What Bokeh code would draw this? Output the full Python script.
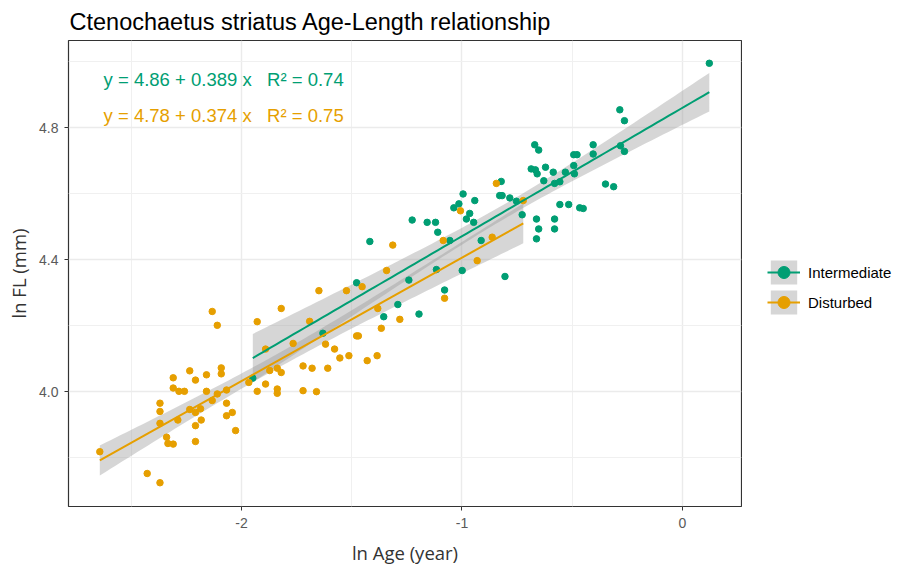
import numpy as np
from bokeh.plotting import figure
from bokeh.layouts import row
from bokeh.models import Range1d, FixedTicker, Legend, LegendItem, Label
from bokeh.embed import file_html
from bokeh.resources import INLINE

# ---------------- data ----------------
dist_x = [-2.643, -2.133, -2.110, -1.929, -2.310, -2.235, -2.209, -2.159, -2.092, -2.092,
          -2.310, -2.284, -2.259, -2.159, -2.068, -2.110, -2.370, -2.370, -2.370, -2.289,
          -2.235, -2.209, -2.186, -2.133, -2.068, -2.068, -2.042, -2.183, -2.209, -2.027,
          -2.340, -2.334, -2.310, -2.209, -2.428, -2.370, -1.967, -1.929, -1.314, -1.342,
          -1.649, -1.524, -1.453, -1.820, -1.691, -1.382, -1.282, -1.366, -1.478, -1.470,
          -1.766, -1.891, -1.619, -1.578, -1.554, -1.513, -1.430, -1.385, -1.721, -1.680,
          -1.609, -1.872, -1.838, -1.820, -1.891, -1.838, -1.838, -1.721, -1.660, -0.844,
          -1.007, -0.722, -1.085, -0.863, -0.931, -1.079]
dist_y = [3.818, 4.243, 4.201, 4.212, 4.042, 4.063, 4.035, 4.051, 4.072, 4.054,
          4.011, 4.001, 4.001, 4.001, 4.005, 3.993, 3.965, 3.940, 3.904, 3.914,
          3.946, 3.937, 3.948, 3.973, 3.965, 3.927, 3.937, 3.914, 3.897, 3.882,
          3.862, 3.843, 3.841, 3.849, 3.752, 3.724, 4.028, 4.001, 4.444, 4.367,
          4.306, 4.306, 4.318, 4.252, 4.213, 4.252, 4.219, 4.192, 4.169, 4.169,
          4.146, 4.129, 4.144, 4.129, 4.102, 4.109, 4.094, 4.109, 4.078, 4.071,
          4.071, 4.064, 4.071, 4.058, 4.023, 4.008, 3.995, 4.003, 4.000, 4.631,
          4.548, 4.579, 4.458, 4.468, 4.397, 4.283]

inter_x = [-1.949, -1.418, -1.478, -1.241, -1.116, -1.291, -1.355, -1.195, -1.631, -1.226,
           -0.670, -0.652, -0.686, -0.667, -0.659, -0.621, -0.586, -0.629, -0.580, -0.556,
           -0.531, -0.490, -0.822, -0.829, -0.818, -0.783, -0.753, -0.995, -1.037, -1.014,
           -0.942, -0.965, -0.980, -0.947, -1.158, -1.120, -1.110, -0.727, -0.662, -0.580,
           -0.556, -0.516, -0.466, -0.652, -0.580, -0.662, -0.913, -1.055, -0.999, -0.805,
           -1.079, 0.122, -0.284, -0.263, -0.405, -0.493, -0.478, -0.405, -0.281, -0.263,
           -0.493, -0.349, -0.312, -0.450]
inter_y = [4.041, 4.455, 4.330, 4.338, 4.370, 4.264, 4.227, 4.235, 4.177, 4.520,
           4.748, 4.732, 4.675, 4.672, 4.660, 4.680, 4.665, 4.639, 4.631, 4.636,
           4.665, 4.660, 4.637, 4.594, 4.594, 4.587, 4.577, 4.599, 4.557, 4.569,
           4.579, 4.540, 4.523, 4.513, 4.513, 4.513, 4.483, 4.536, 4.523, 4.523,
           4.567, 4.567, 4.557, 4.493, 4.493, 4.463, 4.458, 4.458, 4.367, 4.349,
           4.308, 4.995, 4.854, 4.821, 4.748, 4.718, 4.718, 4.720, 4.745, 4.728,
           4.685, 4.629, 4.621, 4.555]

groups = ["Intermediate", "Disturbed"]
intercepts = [4.86, 4.78]
slopes = [0.389, 0.374]
r2_values = [0.74, 0.75]
colors = ["#009E73", "#E69F00"]

x_ticks = [-2, -1, 0]
x_minor = [-2.5, -1.5, -0.5]
y_ticks = [4.0, 4.4, 4.8]
y_minor = [3.8, 4.2, 4.6, 5.0]

BAND_FILL = "#999999"
BAND_ALPHA = 0.4

# ---------------- main figure ----------------
p = figure(width=742, height=567, output_backend="svg", toolbar_location=None,
           x_range=Range1d(-2.785, 0.268), y_range=Range1d(3.652, 5.064),
           min_border_left=68, min_border_right=1, min_border_top=40, min_border_bottom=61,
           background_fill_color="white", border_fill_color="white")

p.title.text = "Ctenochaetus striatus Age-Length relationship"
p.title.text_font = "Liberation Sans"
p.title.text_font_size = "23.5px"
p.title.text_font_style = "normal"
p.title.text_color = "black"
p.title.align = "left"
p.title.offset = 1
p.title.standoff = 11

p.outline_line_color = "#333333"
p.outline_line_width = 1.2

p.xaxis.ticker = FixedTicker(ticks=x_ticks, minor_ticks=x_minor)
p.yaxis.ticker = FixedTicker(ticks=y_ticks, minor_ticks=y_minor)
p.xaxis.major_label_overrides = {-2: "-2", -1: "-1", 0: "0"}
p.yaxis.major_label_overrides = {4.0: "4.0", 4.4: "4.4", 4.8: "4.8"}

for ax in (p.xaxis[0], p.yaxis[0]):
    ax.axis_line_color = None
    ax.major_tick_line_color = "#333333"
    ax.major_tick_out = 4
    ax.major_tick_in = 0
    ax.minor_tick_line_color = None
    ax.major_label_text_font = "Liberation Sans"
    ax.major_label_text_font_size = "14px"
    ax.major_label_text_color = "#5a5a5a"
    ax.axis_label_text_font = "Open Sans"
    ax.axis_label_text_font_size = "18.5px"
    ax.axis_label_text_font_style = "normal"
    ax.axis_label_text_color = "#333333"

p.xaxis.axis_label = "ln Age (year)"
p.yaxis.axis_label = "ln FL (mm)"
p.xaxis.major_label_standoff = 7
p.yaxis.major_label_standoff = 6
p.xaxis.axis_label_standoff = 9
p.yaxis.axis_label_standoff = 5

p.grid.grid_line_color = "#ebebeb"
p.grid.grid_line_width = 1.4
p.grid.minor_grid_line_color = "#f0f0f0"
p.grid.minor_grid_line_width = 1

# ---------------- layers ----------------
xs_all = [inter_x, dist_x]
ys_all = [inter_y, dist_y]
fits = []
for gx, gy, a, b, col in zip(xs_all, ys_all, intercepts, slopes, colors):
    gx = np.asarray(gx)
    gy = np.asarray(gy)
    n = len(gx)
    xbar = gx.mean()
    sxx = ((gx - xbar) ** 2).sum()
    resid = gy - (a + b * gx)
    s = np.sqrt((resid ** 2).sum() / (n - 2))
    grid = np.linspace(gx.min(), gx.max(), 80)
    fit = a + b * grid
    se = s * np.sqrt(1.0 / n + (grid - xbar) ** 2 / sxx)
    t = 1.995
    fits.append((grid, fit, fit - t * se, fit + t * se))
    p.varea(x=grid, y1=fit - t * se, y2=fit + t * se, fill_color=BAND_FILL, fill_alpha=BAND_ALPHA)

for gx, gy, col in zip(xs_all, ys_all, colors):
    p.scatter(gx, gy, size=6.5, fill_color=col, line_color=col)

for (grid, fit, lo, hi), col in zip(fits, colors):
    p.line(grid, fit, line_color=col, line_width=2)

# equation labels
gap = "\u00a0\u00a0\u00a0"
eq_x = -2.626
eq_y = [4.946, 4.837]
for a, b, r2, col, yy in zip(intercepts, slopes, r2_values, colors, eq_y):
    p.add_layout(Label(x=eq_x, y=yy, text=f"y = {a:.2f} + {b:.3f} x{gap}R² = {r2:.2f}",
                       text_font="Liberation Sans", text_font_size="18.5px",
                       text_color=col, text_baseline="middle"))

# ---------------- legend figure ----------------
# The legend lives in its own narrow figure so that it is not clipped by the main frame.
# Its proxy renderers reuse the group data, which falls outside this figure's 0..1 ranges.
lf = figure(width=156, height=567, output_backend="svg", toolbar_location=None,
            x_range=Range1d(0, 1), y_range=Range1d(0, 1),
            x_axis_location=None, y_axis_location=None,
            min_border_left=0, min_border_right=0, min_border_top=0, min_border_bottom=0,
            background_fill_color="white", border_fill_color="white")
lf.outline_line_color = None
lf.grid.visible = False

items = []
for g, gx, gy, (grid, fit, lo, hi), col in zip(groups, xs_all, ys_all, fits, colors):
    rb = lf.varea(x=grid, y1=lo, y2=hi, fill_color=BAND_FILL, fill_alpha=BAND_ALPHA)
    rl = lf.line(x=grid, y=fit, line_color=col, line_width=2)
    rp = lf.scatter(x=gx, y=gy, size=6.5, fill_color=col, line_color=col)
    items.append(LegendItem(label=g, renderers=[rb, rl, rp]))

legend = Legend(items=items, location=(25, 189), padding=0, margin=0, spacing=0,
                glyph_width=33, glyph_height=30, label_standoff=8,
                label_text_font="Liberation Sans", label_text_font_size="15px",
                label_text_color="black", border_line_color=None,
                background_fill_alpha=0)
lf.add_layout(legend)

layout = row(p, lf, spacing=0)
open("out.html", "w").write(file_html(layout, INLINE))
